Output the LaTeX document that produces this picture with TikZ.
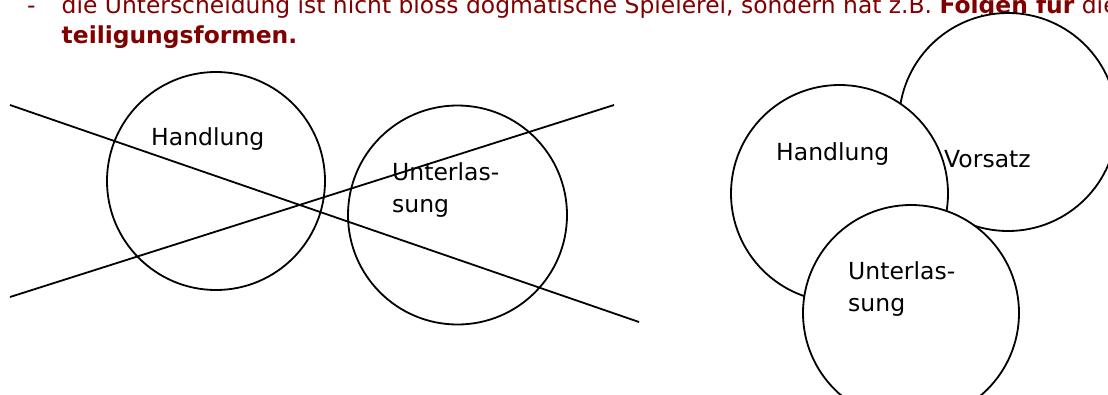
\documentclass[tikz,border=0pt]{standalone}
\usepackage{fontspec}
\setmainfont{DejaVu Sans}
\definecolor{hdr}{RGB}{128,0,0}
\begin{document}
\begin{tikzpicture}[x=1pt,y=-1pt,
  ring/.style={circle, draw=black, line width=1.8pt, inner sep=0pt, minimum size=#1},
  wring/.style={ring=#1, fill=white},
  lbl/.style={anchor=base west, inner sep=0pt, align=left, font=\fontsize{23.5}{32.5}\selectfont},
  hdrtxt/.style={anchor=base west, inner sep=0pt, text=hdr, font=\fontsize{23.4}{30}\selectfont},
  crossline/.style={draw=black, line width=1.8pt}]
\useasboundingbox (0,0) rectangle (1108,394);
\clip (0,0) rectangle (1108,394);
% header text
\node[hdrtxt] (dash) at (27,13) {-};
\node[hdrtxt] (l1) at (61.5,13) {die Unterscheidung ist nicht bloss dogmatische Spielerei, sondern hat z.B. \textbf{Folgen für} die};
\node[hdrtxt] (l2) at (61.5,43) {\textbf{teiligungsformen.}};
% left: crossed-out circles
\node[ring=218pt] (hl) at (216,181) {};
\node[ring=219pt] (ul) at (457.5,215) {};
\coordinate (a1) at (10,105);
\coordinate (a2) at (639,322);
\coordinate (b1) at (10,297);
\coordinate (b2) at (614,105);
\draw[crossline] (a1) -- (a2);
\draw[crossline] (b1) -- (b2);
\node[lbl] (thl) at (151,145) {Handlung};
\node[lbl] (tul) at (392,212.5) {Unterlas-\\sung};
% right: overlapping circles
\node[wring=218pt] (vr) at (1008,122) {};
\node[wring=217pt] (hr) at (839.5,193.5) {};
\node[wring=216pt] (ur) at (911,313) {};
\node[lbl] (thr) at (776,160) {Handlung};
\node[lbl] (tvr) at (944,167) {Vorsatz};
\node[lbl] (tur) at (848,311.5) {Unterlas-\\sung};
\end{tikzpicture}
\end{document}
